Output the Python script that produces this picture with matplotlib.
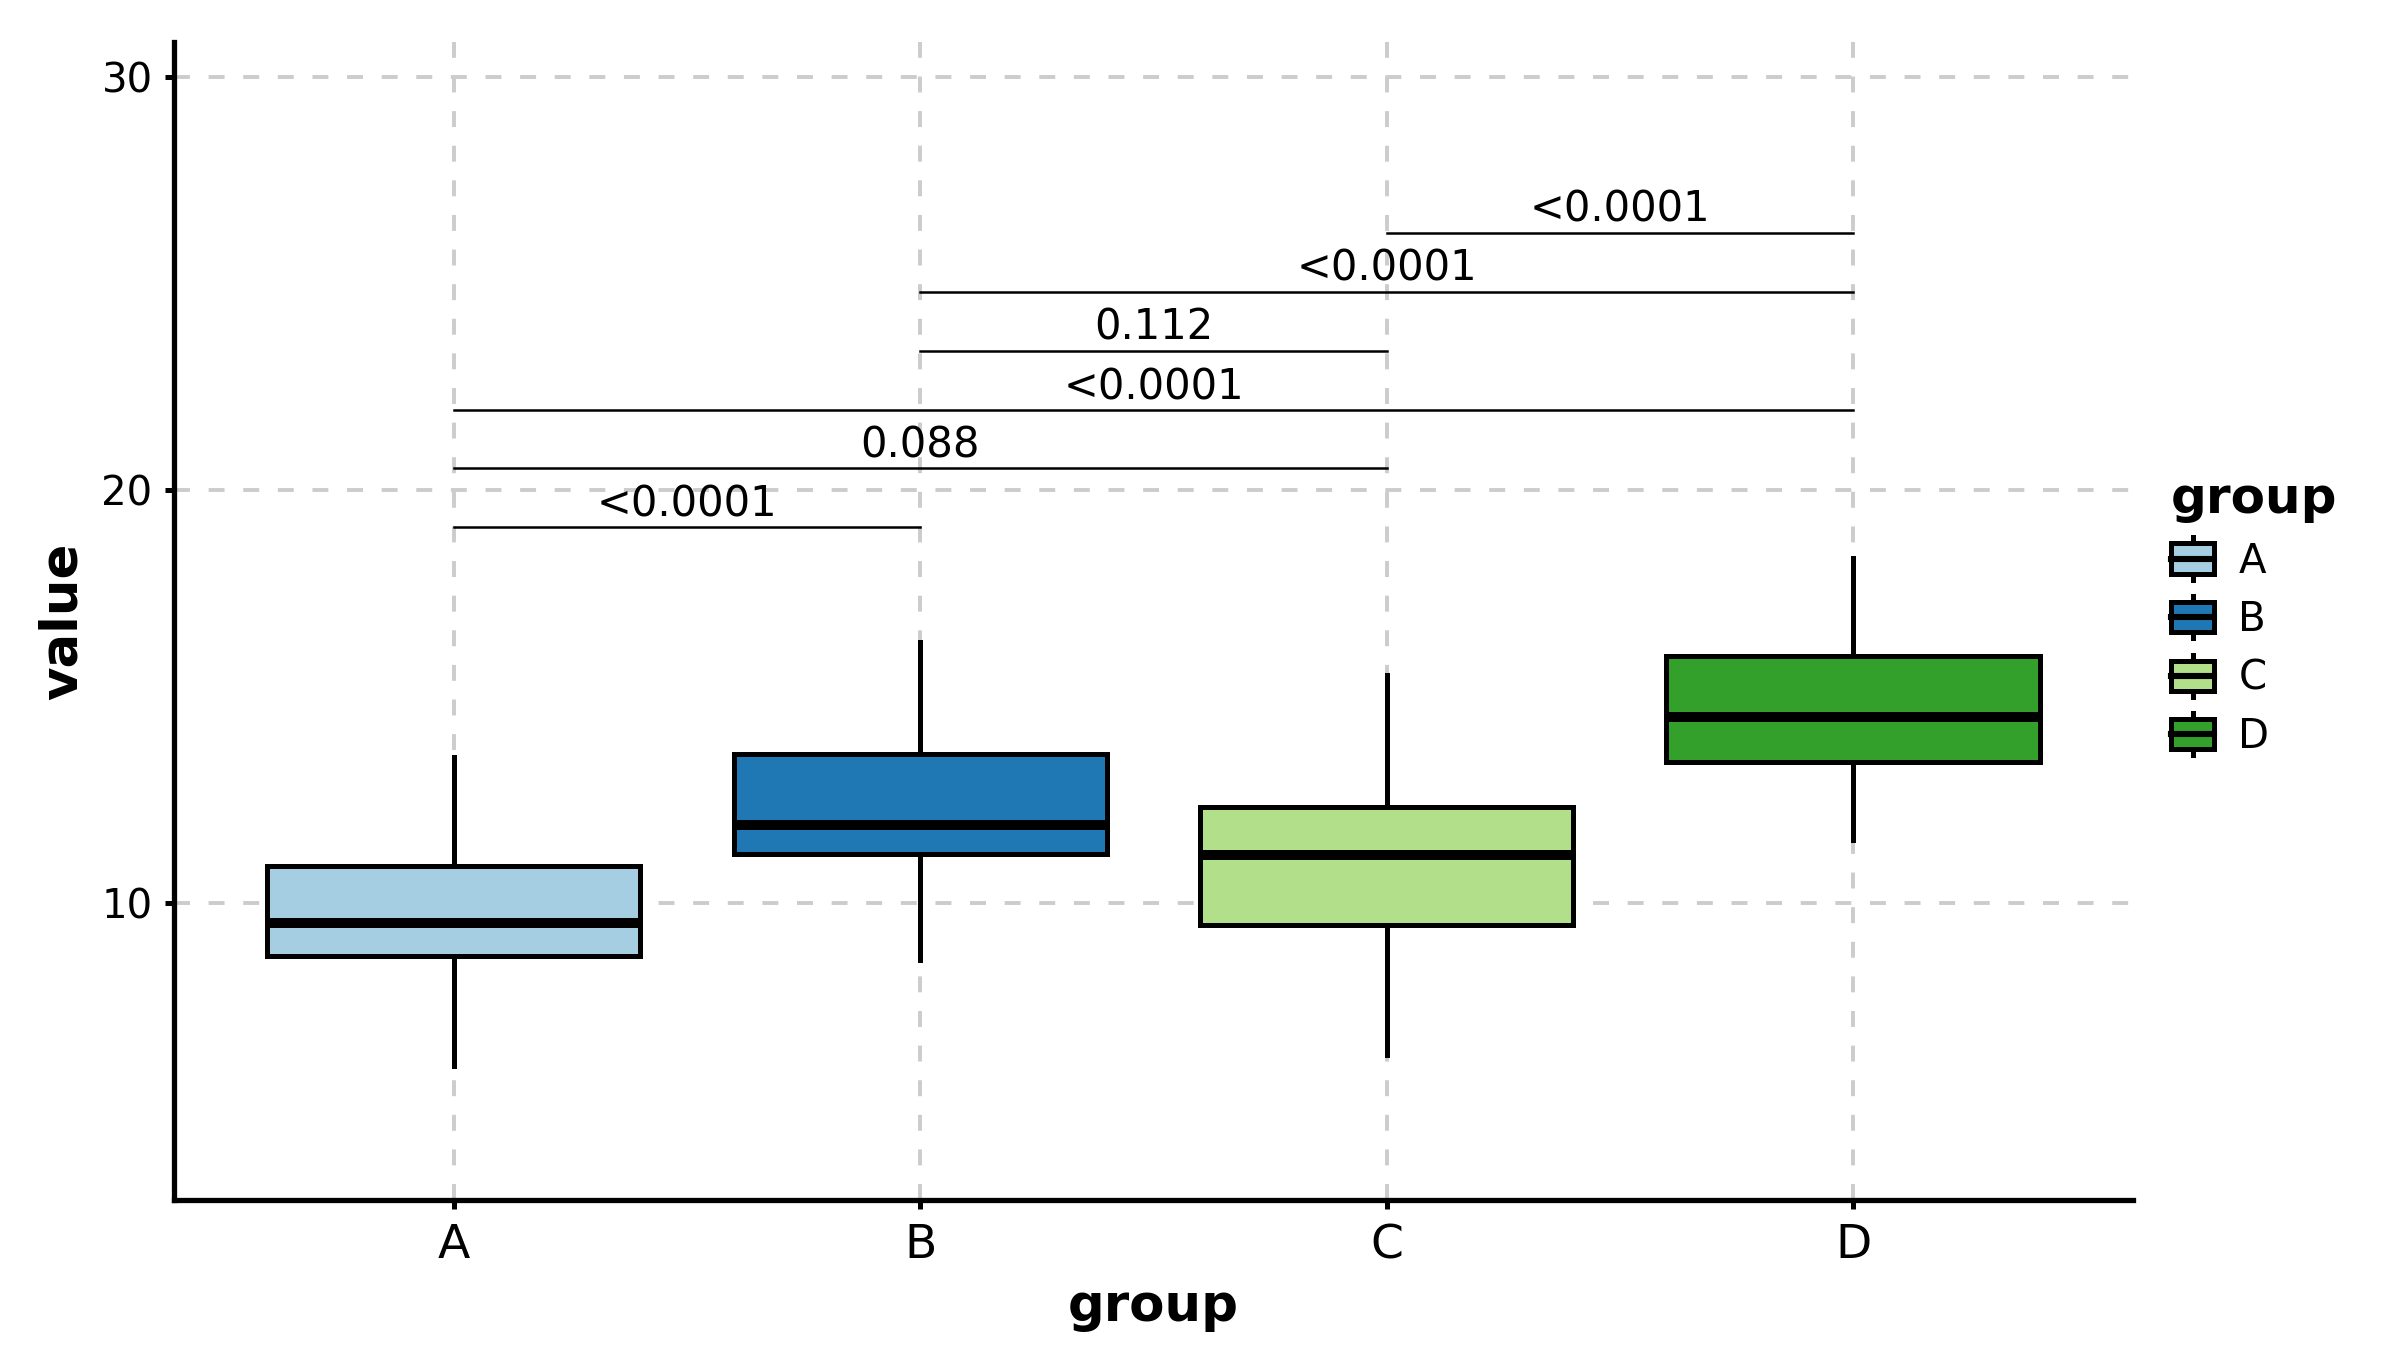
import matplotlib
matplotlib.use("Agg")
import matplotlib.pyplot as plt
from matplotlib.legend_handler import HandlerBase
from matplotlib.patches import Rectangle, Patch
from matplotlib.lines import Line2D

groups = ["A", "B", "C", "D"]
colors = ["#a6cee3", "#1f78b4", "#b2df8a", "#33a02c"]

# box statistics
whisker_low = [6.05, 8.61, 6.32, 11.54]
q1 = [8.72, 11.20, 9.47, 13.42]
median = [9.51, 11.88, 11.17, 14.51]
q3 = [10.90, 13.61, 12.33, 15.98]
whisker_high = [13.53, 16.32, 15.53, 18.35]

# pairwise comparisons: (first, second), bracket height, label
pairs = [("A", "B"), ("A", "C"), ("A", "D"), ("B", "C"), ("B", "D"), ("C", "D")]
bracket_y = [19.10, 20.53, 21.95, 23.38, 24.81, 26.24]
p_labels = ["<0.0001", "0.088", "<0.0001", "0.112", "<0.0001", "<0.0001"]


class MiniBoxHandler(HandlerBase):
    # legend key drawn as a small boxplot
    def create_artists(self, legend, orig_handle, xdescent, ydescent,
                       width, height, fontsize, trans):
        x0 = -xdescent
        y0 = -ydescent
        cx = x0 + width / 2
        stub = height * 0.2
        whisk = Line2D([cx, cx], [y0 - stub, y0 + height + stub],
                       color="black", lw=1.8, transform=trans)
        box = Rectangle((x0, y0), width, height, facecolor=orig_handle.get_facecolor(),
                        edgecolor="black", lw=1.8, transform=trans)
        med = Line2D([x0, x0 + width], [y0 + height / 2, y0 + height / 2],
                     color="black", lw=2.2, transform=trans)
        return [whisk, box, med]


fig = plt.figure(figsize=(12, 6.755), dpi=200)
ax = fig.add_axes([0.0725, 0.1115, 0.8162, 0.8575])

positions = list(range(1, len(groups) + 1))
stats = []
for i, g in enumerate(groups):
    stats.append({
        "label": g, "whislo": whisker_low[i], "q1": q1[i], "med": median[i],
        "q3": q3[i], "whishi": whisker_high[i], "fliers": [],
    })

bp = ax.bxp(stats, positions=positions, widths=0.8, patch_artist=True,
            showcaps=False, showfliers=False,
            boxprops=dict(edgecolor="black", linewidth=1.8),
            medianprops=dict(color="black", linewidth=3.6, solid_capstyle="butt"),
            whiskerprops=dict(color="black", linewidth=1.8),
            zorder=3)
for patch, c in zip(bp["boxes"], colors):
    patch.set_facecolor(c)

pos = dict(zip(groups, positions))
for (g1, g2), y, lab in zip(pairs, bracket_y, p_labels):
    ax.plot([pos[g1], pos[g2]], [y, y], color="black", lw=0.9, zorder=4)
    ax.text((pos[g1] + pos[g2]) / 2, y + 0.26, lab, ha="center", va="baseline",
            fontsize=15, zorder=4)

ax.set_xlim(0.4, 4.6)
ax.set_ylim(2.8, 30.86)
ax.set_xticks(positions)
ax.set_xticklabels(groups)
ax.set_yticks([10, 20, 30])
ax.tick_params(axis="y", labelsize=14.5, width=1.8, length=3.2, pad=4.5)
ax.tick_params(axis="x", labelsize=17, width=1.8, length=3.2, pad=5)

ax.grid(True, color="#cccccc", linestyle=(0, (4.1, 4.8)), linewidth=1.4, zorder=0)
ax.set_axisbelow(True)
for s in ["top", "right"]:
    ax.spines[s].set_visible(False)
for s in ["left", "bottom"]:
    ax.spines[s].set_linewidth(1.9)

ax.set_xlabel("group", fontsize=18.5, fontweight="bold", labelpad=5)
ax.set_ylabel("value", fontsize=18.5, fontweight="bold", labelpad=5)

handles = [Patch(facecolor=c, edgecolor="black") for c in colors]
leg = fig.legend(handles, groups, title="group", loc="upper left",
                 bbox_to_anchor=(0.9046, 0.6484), frameon=False, fontsize=14.5,
                 title_fontproperties={"weight": "bold", "size": 18},
                 handler_map={Patch: MiniBoxHandler()}, handlelength=1.07,
                 handleheight=0.77, labelspacing=0.46, handletextpad=0.6,
                 borderpad=0, borderaxespad=0, alignment="left")

fig.savefig("out.png", dpi=200)
